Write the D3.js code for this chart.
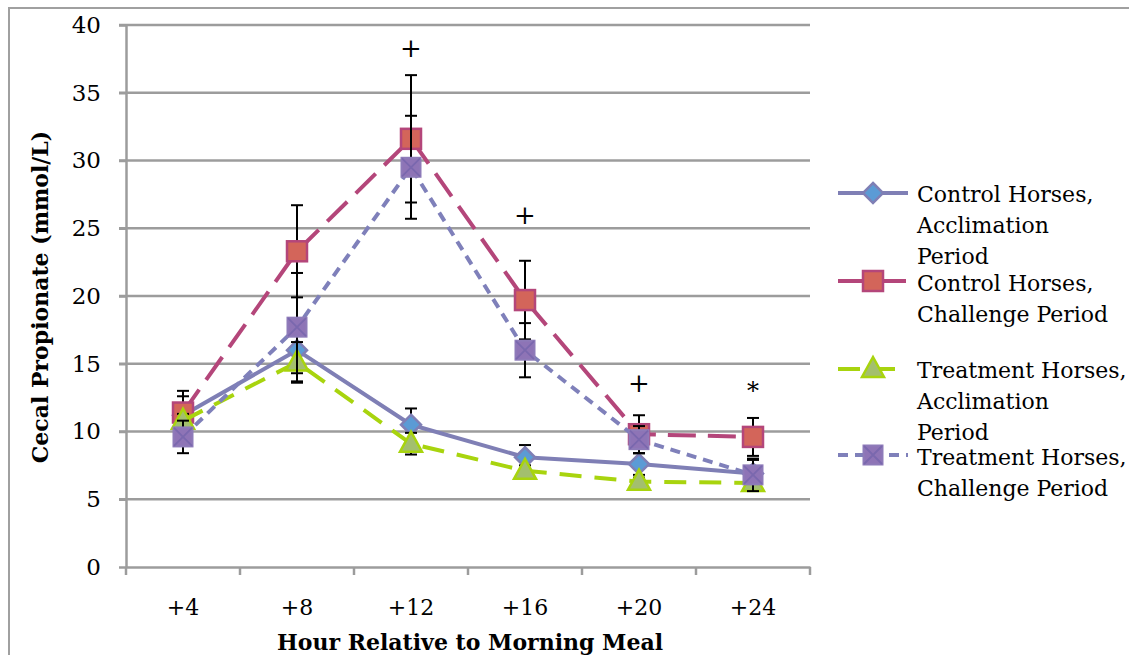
<!DOCTYPE html>
<html>
<head>
<meta charset="utf-8">
<script src="https://cdn.jsdelivr.net/npm/d3@7"></script>
<style>
    body { margin: 0; background: #fff; }
    svg { font-family: 'DejaVu Serif', 'Liberation Serif', serif; }
</style>
</head>
<body>
<svg id="chart" width="1129" height="655"></svg>
<script>
// categories on the x axis
let hours = ['+4', '+8', '+12', '+16', '+20', '+24'];
let yTicks = [0, 5, 10, 15, 20, 25, 30, 35, 40];

// series means (mmol/L)
let controlAcclimation = [11.2, 16.0, 10.5, 8.1, 7.6, 6.9];
let controlChallenge = [11.4, 23.3, 31.6, 19.7, 9.8, 9.6];
let treatmentAcclimation = [10.8, 15.1, 9.1, 7.1, 6.3, 6.2];
let treatmentChallenge = [9.6, 17.7, 29.5, 16.0, 9.4, 6.8];

// standard errors
let controlAcclimationErr = [1.4, 1.7, 1.2, 0.9, 0.8, 1.0];
let controlChallengeErr = [1.6, 3.4, 4.7, 2.9, 1.4, 1.4];
let treatmentAcclimationErr = [0.5, 1.5, 0.8, 0.4, 0.3, 0.3];
let treatmentChallengeErr = [1.2, 4.0, 3.8, 2.0, 1.0, 1.2];

let seriesNames = [
    ['Control Horses,', 'Acclimation', 'Period'],
    ['Control Horses,', 'Challenge Period'],
    ['Treatment Horses,', 'Acclimation', 'Period'],
    ['Treatment Horses,', 'Challenge Period'],
];

// significance marks above points
let markHours = ['+12', '+16', '+20', '+24'];
let markValues = [38.3, 26.0, 13.6, 13.0];
let markSymbols = ['+', '+', '+', '*'];

const styles = [
    {stroke: '#7f7fb5', dash: null, marker: 'diamond', fill: '#5b9bd5', mstroke: '#7f7fb5'},
    {stroke: '#b4467a', dash: '28,12', marker: 'square', fill: '#d3655a', mstroke: '#b4467a'},
    {stroke: '#a8d40e', dash: '22,13', marker: 'triangle', fill: '#a3bf6e', mstroke: '#a8d40e'},
    {stroke: '#7f80ba', dash: '10,7', marker: 'xsquare', fill: '#8e74b6', mstroke: '#8e7bb9'},
];

let series = [
    {values: controlAcclimation, err: controlAcclimationErr},
    {values: controlChallenge, err: controlChallengeErr},
    {values: treatmentAcclimation, err: treatmentAcclimationErr},
    {values: treatmentChallenge, err: treatmentChallengeErr},
].map((s, i) => Object.assign(s, styles[i], {name: seriesNames[i]}));

let svg = d3.select('#chart');

let x = d3.scaleBand().domain(hours).range([126, 810]).padding(0);
let y = d3.scaleLinear().domain([0, 40]).range([567, 25]);
let cx = d => x(d) + x.bandwidth() / 2;

// outer chart border
svg.append('rect')
    .attr('x', 9).attr('y', 8)
    .attr('width', 1140).attr('height', 670)
    .attr('fill', 'none').attr('stroke', '#a0a0a0').attr('stroke-width', 2);

// gridlines
svg.append('g').selectAll('line')
    .data(yTicks.filter(t => t > 0))
    .enter().append('line')
    .attr('x1', 119).attr('x2', 810)
    .attr('y1', d => y(d)).attr('y2', d => y(d))
    .attr('stroke', '#9c9c9c').attr('stroke-width', 2.5);

// y axis
let yAxis = svg.append('g')
    .attr('transform', 'translate(126,0)')
    .call(d3.axisLeft(y).tickValues(yTicks).tickSize(7).tickSizeOuter(0).tickPadding(18));
yAxis.select('.domain').attr('stroke', '#9c9c9c').attr('stroke-width', 2.5);
yAxis.selectAll('.tick line').attr('stroke', '#9c9c9c').attr('stroke-width', 2.5);
yAxis.selectAll('text').attr('font-size', 23).attr('fill', '#000')
    .attr('font-family', "'DejaVu Serif', serif");

// x axis
let xAxis = svg.append('g')
    .attr('transform', 'translate(0,567)')
    .call(d3.axisBottom(x).tickSize(0).tickPadding(32));
xAxis.select('.domain').attr('stroke', '#9c9c9c').attr('stroke-width', 2.5);
xAxis.selectAll('text').attr('font-size', 22).attr('fill', '#000')
    .attr('font-family', "'DejaVu Serif', serif");
// ticks sit between categories
svg.append('g').selectAll('line')
    .data(hours.map(h => x(h)).concat([x.range()[1]]))
    .enter().append('line')
    .attr('x1', d => d).attr('x2', d => d)
    .attr('y1', 567).attr('y2', 575)
    .attr('stroke', '#9c9c9c').attr('stroke-width', 2.5);

// axis titles
svg.append('text')
    .attr('transform', 'translate(48,297) rotate(-90)')
    .attr('text-anchor', 'middle')
    .attr('font-size', 22).attr('font-weight', 'bold')
    .text('Cecal Propionate (mmol/L)');

svg.append('text')
    .attr('x', 470).attr('y', 650)
    .attr('text-anchor', 'middle')
    .attr('font-size', 22).attr('font-weight', 'bold')
    .text('Hour Relative to Morning Meal');

function drawMarker(g, type, fill, stroke) {
    if (type == 'diamond') {
        g.append('path').attr('d', 'M0,-10 L10,0 L0,10 L-10,0 Z')
            .attr('fill', fill).attr('stroke', stroke).attr('stroke-width', 2.5);
    }
    else if (type == 'square') {
        g.append('rect').attr('x', -10).attr('y', -10).attr('width', 20).attr('height', 20)
            .attr('fill', fill).attr('stroke', stroke).attr('stroke-width', 2.5);
    }
    else if (type == 'triangle') {
        g.append('path').attr('d', 'M0,-12 L11,8 L-11,8 Z')
            .attr('fill', fill).attr('stroke', stroke).attr('stroke-width', 2.5);
    }
    else {
        g.append('rect').attr('x', -9.5).attr('y', -9.5).attr('width', 19).attr('height', 19)
            .attr('fill', fill).attr('stroke', stroke).attr('stroke-width', 2);
        g.append('path').attr('d', 'M-9,-9 L9,9 M9,-9 L-9,9')
            .attr('stroke', '#7a68ae').attr('stroke-width', 1.8);
    }
}

let line = d3.line()
    .x((d, i) => cx(hours[i]))
    .y(d => y(d));

// each series: line, error bars, markers
for (let s of series) {
    let g = svg.append('g');
    g.append('path')
        .attr('d', line(s.values))
        .attr('fill', 'none')
        .attr('stroke', s.stroke)
        .attr('stroke-width', 4)
        .attr('stroke-dasharray', s.dash)
        .attr('stroke-linejoin', 'round');

    let bars = g.selectAll('.err')
        .data(s.values.map((v, i) => ({h: hours[i], lo: v - s.err[i], hi: v + s.err[i]})))
        .enter().append('g');
    bars.append('line')
        .attr('x1', d => cx(d.h)).attr('x2', d => cx(d.h))
        .attr('y1', d => y(d.lo)).attr('y2', d => y(d.hi))
        .attr('stroke', '#000').attr('stroke-width', 2);
    bars.selectAll('.cap')
        .data(d => [{h: d.h, v: d.lo}, {h: d.h, v: d.hi}])
        .enter().append('line')
        .attr('x1', d => cx(d.h) - 6).attr('x2', d => cx(d.h) + 6)
        .attr('y1', d => y(d.v)).attr('y2', d => y(d.v))
        .attr('stroke', '#000').attr('stroke-width', 2);

    s.values.forEach((v, i) => {
        let m = g.append('g').attr('transform', 'translate(' + cx(hours[i]) + ',' + y(v) + ')');
        drawMarker(m, s.marker, s.fill, s.mstroke);
    });
}

// significance marks
svg.append('g').selectAll('text')
    .data(markSymbols)
    .enter().append('text')
    .attr('x', (d, i) => cx(markHours[i]))
    .attr('y', (d, i) => y(markValues[i]))
    .attr('dy', '0.35em')
    .attr('text-anchor', 'middle')
    .attr('font-size', d => d == '*' ? 24 : 26)
    .attr('font-weight', 300)
    .text(d => d);

// legend
let legend = svg.append('g').attr('transform', 'translate(838,0)');
let legendY = [193, 281, 369, 455];
let legendTextY = [202, 291, 378, 465];
series.forEach((s, i) => {
    let row = legend.append('g').attr('transform', 'translate(0,' + legendY[i] + ')');
    row.append('line')
        .attr('x1', 0).attr('x2', 70).attr('y1', 0).attr('y2', 0)
        .attr('stroke', s.stroke).attr('stroke-width', 4)
        .attr('stroke-dasharray', s.dash);
    drawMarker(row.append('g').attr('transform', 'translate(35,0)'), s.marker, s.fill, s.mstroke);
    let t = legend.append('text')
        .attr('font-size', 22);
    s.name.forEach((line, k) => {
        t.append('tspan').attr('x', 79).attr('y', legendTextY[i] + k * 31).text(line);
    });
});
</script>
</body>
</html>
